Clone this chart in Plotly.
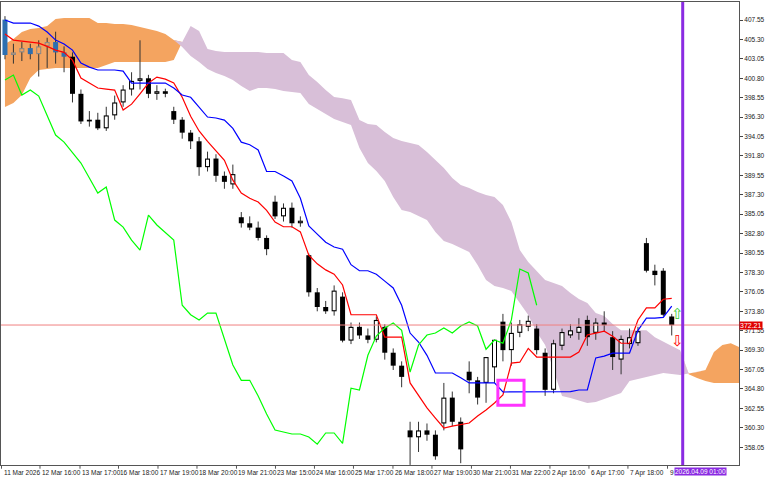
import plotly.graph_objects as go

opens = [407.6,403.5,403.8,404.3,403.6,404.5,405.0,403.8,403.3,399.0,395.8,396.0,395.0,396.5,398.0,399.5,400.5,400.8,399.0,399.3,
         397.0,396.0,394.5,393.5,390.5,391.5,389.5,388.5,384.7,384.0,383.5,382.3,386.5,384.8,385.8,384.0,380.3,376.0,374.3,373.8,
         375.5,370.4,372.0,371.0,370.5,372.0,369.0,367.5,360.0,359.2,360.0,359.5,360.8,363.8,361.0,366.8,365.8,365.5,367.3,372.6,
         369.3,371.3,372.0,371.8,369.0,364.7,369.8,371.0,371.3,372.8,371.3,372.5,370.8,368.2,370.0,370.1,381.7,378.5,378.5,373.2]
highs = [408.0,404.8,405.0,404.8,405.2,405.5,406.2,404.5,403.8,399.5,397.0,396.8,397.5,398.8,400.0,401.5,405.2,401.2,400.0,399.6,
         397.5,396.3,394.8,394.0,392.3,392.0,390.0,390.8,385.3,384.8,384.2,382.6,387.2,386.3,386.4,384.8,380.5,376.5,375.0,376.8,
         376.0,372.5,372.5,371.8,373.2,372.3,369.5,368.0,361.0,361.0,360.8,360.0,365.5,364.5,361.5,368.0,366.2,368.5,370.5,373.5,
         372.5,372.8,373.3,372.3,369.5,370.5,371.8,372.3,373.0,373.3,373.0,373.8,371.5,371.0,371.8,372.0,382.3,379.2,378.8,373.5]
lows  = [403.0,402.5,402.8,403.0,401.0,402.0,402.5,401.5,398.0,395.5,395.2,394.8,394.7,396.0,397.5,398.8,399.5,398.5,398.3,398.6,
         395.5,393.8,392.6,389.5,390.0,388.8,388.0,388.0,383.5,383.2,382.0,380.3,384.5,384.2,383.5,383.6,375.5,373.8,373.5,373.3,
         370.2,370.0,370.6,370.1,370.2,368.2,367.0,365.0,356.0,357.5,358.8,356.6,360.0,360.5,356.2,364.3,363.0,363.2,365.5,368.0,
         367.5,370.8,371.5,368.8,364.0,364.3,369.3,370.7,370.5,369.8,370.5,371.5,367.0,366.5,369.5,369.8,378.3,376.8,373.2,371.0]
closes = [403.5,403.8,404.3,403.6,404.5,405.0,403.8,403.3,399.0,395.8,396.0,395.0,396.5,398.0,399.5,400.5,400.8,399.0,399.3,399.0,
          396.0,394.5,393.5,390.5,391.5,389.5,388.8,389.7,384.0,383.5,382.3,381.0,384.8,385.8,384.0,384.3,376.0,374.3,373.8,376.2,
          370.4,372.0,371.0,370.5,372.8,369.0,367.5,366.2,359.2,360.0,359.5,357.0,363.8,361.0,357.8,365.8,363.8,368.5,370.5,369.3,
          371.3,372.3,372.7,369.3,364.7,370.1,371.4,371.6,372.0,370.8,372.5,372.2,368.5,370.6,370.8,371.5,378.5,378.0,373.4,372.2]

tenkan = [405.93,405.23,405.1,405.0,404.88,404.5,404.07,403.8,402.9,400.83,400.25,399.67,399.55,399.44,397.12,397.8,399.0,400.25,400.94,400.7,
          400.25,398.6,396.4,394.7,393.5,392.37,391.3,389.0,387.5,386.9,386.46,385.5,384.15,383.6,383.6,383.0,380.3,379.3,378.6,378.1,
          376.85,373.4,373.4,373.4,373.4,370.8,370.8,370.8,365.5,363.98,362.6,361.43,360.28,360.5,360.7,360.85,361.66,362.36,363.17,364.1,
          367.8,367.9,369.5,368.5,368.5,368.5,368.5,368.5,369.08,371.05,371.28,371.5,370.9,370.1,370.1,372.8,374.2,374.2,375.2,375.3]
kijun = [407.55,407.2,407.2,407.2,406.85,406.16,405.23,404.77,404.07,402.57,402.1,401.76,401.76,401.76,401.64,400.25,400.25,400.25,400.25,400.25,
         399.67,398.86,398.6,397.47,396.31,396.2,395.96,395.0,393.4,393.1,392.5,390.0,390.0,389.47,388.9,386.9,383.7,382.75,381.8,381.25,
         381.0,379.2,378.5,378.5,378.1,377.3,376.5,374.5,371.28,370.24,368.7,366.65,366.65,366.65,366.1,365.5,365.5,365.5,365.5,364.45,
         364.45,364.45,364.45,364.5,364.5,364.5,364.5,364.5,364.68,364.68,368.4,368.6,368.96,368.96,368.96,371.6,373.0,373.0,373.1,374.4]
chikou = [400.6,401.18,398.86,399.44,398.74,396.54,394.22,393.41,392.14,390.98,389.24,387.5,388.2,384.37,383.56,382.05,380.9,384.95,383.8,382.87,
          382.05,374.5,373.4,372.8,373.6,373.6,370.7,367.57,365.8,365.8,363.98,361.9,360.04,359.8,359.58,359.58,359.23,358.4,359.7,359.7,
          358.5,364.9,364.68,368.7,370.93,371.86,372.44,371.6,366.76,369.9,371.05,371.28,371.86,371.28,372.1,372.56,372.1,369.4,370.47,370.1,
          372.8,378.7,378.24,374.5]
span_a = [404.77,405.35,406.16,406.5,406.62,406.85,407.67,407.78,407.78,407.78,407.78,407.2,407.2,407.09,407.09,406.97,406.74,406.5,406.28,405.93,
          405.23,404.42,403.38,402.68,401.87,401.41,401.06,400.6,399.9,399.32,399.67,399.67,399.55,399.32,399.2,399.09,397.82,397.24,396.66,396.08,
          395.73,395.38,392.72,390.98,390.05,388.9,387.04,385.53,385.3,384.84,384.37,382.98,381.94,381.6,381.13,380.67,379.16,377.42,376.73,376.5,
          376.15,374.76,373.37,371.4,369.89,367.0,363.98,363.75,363.5,363.17,363.28,363.6,363.98,364.33,365.72,365.95,366.2,366.4,366.65,366.53,
          366.42,366.6,366.76,367.0,369.08,369.9,370.1,369.66]
span_b = [397.47,397.93,398.86,400.83,401.76,401.87,401.99,401.99,401.99,401.99,401.99,401.99,402.34,402.68,402.68,402.68,402.68,402.68,402.68,402.68,
          402.92,405.0,406.85,406.28,404.19,403.96,403.84,403.84,403.84,403.84,403.84,403.73,403.73,403.73,402.92,402.68,401.18,400.37,399.44,398.63,
          398.5,398.28,395.96,395.5,395.38,394.57,393.88,393.53,393.3,393.07,392.25,391.33,390.4,389.24,388.43,388.08,387.62,387.27,387.04,386.11,
          384.14,380.9,379.5,378.46,377.42,377.07,376.73,375.92,375.22,374.76,373.6,373.25,372.32,371.6,371.6,371.6,371.6,370.8,370.24,369.77,
          369.3,366.5,366.07,365.72,365.5,365.5,365.5,365.5]

y_ticks = [407.55,405.30,403.05,400.80,398.55,396.30,394.05,391.80,389.55,387.30,385.05,382.80,380.55,378.30,376.05,373.80,371.55,
           369.30,367.05,364.80,362.55,360.30,358.05]
x_label_pos = [-0.41,4.15,8.89,13.45,18.13,22.75,27.43,32.05,36.67,41.29,45.97,50.59,55.27,59.89,64.57,69.19,73.81,78.5]
x_labels = ["11 Mar 2026","12 Mar 16:00","13 Mar 17:00","16 Mar 18:00","17 Mar 19:00","18 Mar 20:00","19 Mar 21:00",
            "23 Mar 15:00","24 Mar 16:00","25 Mar 17:00","26 Mar 18:00","27 Mar 19:00","30 Mar 21:00","31 Mar 22:00",
            "2 Apr 16:00","6 Apr 17:00","7 Apr 18:00","9"]
current_price = 372.21
now_label = "2026.04.09 01:00"
now_pos = 80.3

FONT = "Liberation Sans Narrow, Liberation Sans, sans-serif"
n = len(closes)
idx = list(range(n))
cidx = list(range(len(span_a)))
fig = go.Figure()

# cloud
upper = [max(a, b) for a, b in zip(span_a, span_b)]
lower = [min(a, b) for a, b in zip(span_a, span_b)]
a_top = [a if a > b else b for a, b in zip(span_a, span_b)]
b_top = [b if b > a else a for a, b in zip(span_a, span_b)]
fig.add_trace(go.Scatter(x=cidx, y=span_b, mode="lines", line=dict(width=0), hoverinfo="skip", showlegend=False))
fig.add_trace(go.Scatter(x=cidx, y=a_top, mode="lines", line=dict(width=0), fill="tonexty",
                         fillcolor="#f4a460", hoverinfo="skip", showlegend=False))
fig.add_trace(go.Scatter(x=cidx, y=span_a, mode="lines", line=dict(width=0), hoverinfo="skip", showlegend=False))
fig.add_trace(go.Scatter(x=cidx, y=b_top, mode="lines", line=dict(width=0), fill="tonexty",
                         fillcolor="#d8bfd8", hoverinfo="skip", showlegend=False))

# candles as scatter segments (drawn above cloud)
inside = [lower[i] < closes[i] < upper[i] and span_a[i] > span_b[i] for i in idx]
wx, wy = [], []
for i in idx:
    wx += [i, i, None]
    wy += [lows[i], highs[i], None]
fig.add_trace(go.Scatter(x=wx, y=wy, mode="lines", line=dict(color="#333", width=1), hoverinfo="skip", showlegend=False))

groups = {}
for i in idx:
    bear = closes[i] < opens[i]
    lo, hi = min(opens[i], closes[i]), max(opens[i], closes[i])
    if hi - lo < 0.15:
        lo, hi = lo - 0.07, hi + 0.07
    if inside[i]:
        outer, inner = ("#2e6fb0", None) if bear else ("#888", "#f4a460")
    else:
        outer, inner = ("black", None) if bear else ("black", "white")
    groups.setdefault(("o", outer), []).append((i, lo, hi))
    if inner:
        groups.setdefault(("i", inner), []).append((i, lo + 0.13, hi - 0.13))
for (kind, col), segs in sorted(groups.items(), key=lambda k: k[0][0] != "o"):
    xs, ys = [], []
    for i, lo, hi in segs:
        if hi <= lo:
            continue
        xs += [i, i, None]
        ys += [lo, hi, None]
    fig.add_trace(go.Scatter(x=xs, y=ys, mode="lines", line=dict(color=col, width=5 if kind == "o" else 3),
                             hoverinfo="skip", showlegend=False))

fig.add_trace(go.Scatter(x=idx, y=tenkan, mode="lines", line=dict(color="red", width=1.2), showlegend=False))
fig.add_trace(go.Scatter(x=idx, y=kijun, mode="lines", line=dict(color="blue", width=1.2), showlegend=False))
fig.add_trace(go.Scatter(x=list(range(len(chikou))), y=chikou, mode="lines", line=dict(color="#00ff00", width=1.2), showlegend=False))

fig.add_hline(y=current_price, line=dict(color="#f08080", width=1))
fig.add_vline(x=now_pos, line=dict(color="#8a2be2", width=3))
fig.add_shape(type="rect", x0=58.4, x1=61.5, y0=362.9, y1=365.8, line=dict(color="#ff33ff", width=3))

fig.add_annotation(x=79.7, y=373.6, text="⇧", showarrow=False, font=dict(color="#33cc33", size=15))
fig.add_annotation(x=79.7, y=370.5, text="⇩", showarrow=False, font=dict(color="red", size=15))
fig.add_annotation(xref="paper", x=1.0, y=current_price, text=f"{current_price:.2f}", showarrow=False,
                   xanchor="left", bgcolor="#e00000", font=dict(color="white", size=7, family=FONT),
                   borderpad=0)

for p, t in zip(x_label_pos, x_labels):
    fig.add_annotation(x=p, yref="paper", y=-0.004, text=t, showarrow=False, xanchor="left", yanchor="top",
                       font=dict(size=6.5, family=FONT, color="#222"))
    fig.add_shape(type="line", x0=p, x1=p, yref="paper", y0=0, y1=-0.008, line=dict(color="#555", width=1))
fig.add_annotation(x=now_pos - 1, yref="paper", y=-0.004, text=now_label, showarrow=False, xanchor="left", yanchor="top",
                   bgcolor="#8a2be2", font=dict(size=6.5, family=FONT, color="white"), borderpad=0)

fig.update_layout(width=768, height=480, margin=dict(l=1, r=29, t=2, b=15),
                  paper_bgcolor="white", plot_bgcolor="white",
                  xaxis=dict(range=[-0.47, 86.97], showgrid=False, showticklabels=False,
                             showline=True, mirror=True, linecolor="#555", zeroline=False),
                  yaxis=dict(range=[355.99, 409.64], side="right", tickvals=y_ticks,
                             ticktext=[f"{v:.2f}" for v in y_ticks], showgrid=False, ticks="outside", ticklen=3,
                             tickfont=dict(size=6.5, family=FONT, color="#222"),
                             showline=True, mirror=True, linecolor="#555", zeroline=False))
fig.write_html("out.html", config={"displayModeBar": False},
               post_script="document.body.style.margin='0';document.body.style.overflow='hidden';")
